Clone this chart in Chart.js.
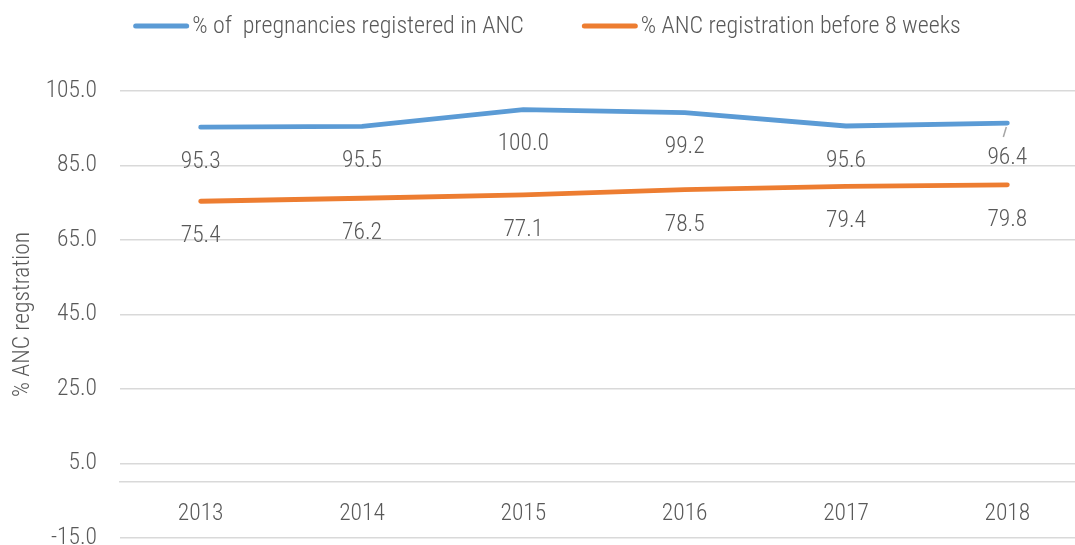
<!DOCTYPE html>
<html>
<head>
<meta charset="utf-8">
<script src="https://cdn.jsdelivr.net/npm/chart.js@4"></script>
<style>
  html, body { margin: 0; padding: 0; background: #fff; overflow: hidden; }
  #wrap { width: 1090px; height: 575px; position: relative; }
</style>
</head>
<body>
<div id="wrap"><canvas id="ancChart"></canvas></div>
<script>
// データ
const years = ['2013', '2014', '2015', '2016', '2017', '2018'];
const registeredInANC = [95.3, 95.5, 100.0, 99.2, 95.6, 96.4];
const before8Weeks = [75.4, 76.2, 77.1, 78.5, 79.4, 79.8];
const seriesNames = ['% of  pregnancies registered in ANC', '% ANC registration before 8 weeks'];

const FONT = "'Roboto Condensed', 'Liberation Sans Narrow', 'DejaVu Sans Condensed', Roboto, sans-serif";
const FSIZE = 23.5;
const TEXT = '#595959';
const GRID = '#d9d9d9';

// 凡例（上部中央）
const topLegend = {
  id: 'topLegend',
  afterDraw(chart) {
    const ctx = chart.ctx;
    ctx.save();
    ctx.font = '300 24px ' + FONT;
    ctx.textBaseline = 'middle';
    const lineW = 56, gapText = 3, gapItem = 58;
    const items = chart.data.datasets.map(ds => ({ ds, w: ctx.measureText(ds.label).width }));
    let total = items.reduce((s, it) => s + lineW + gapText + it.w, 0) + gapItem * (items.length - 1);
    let x = 547 - total / 2;
    const y = 26;
    items.forEach(it => {
      ctx.strokeStyle = it.ds.borderColor;
      ctx.lineWidth = 5;
      ctx.lineCap = 'round';
      ctx.beginPath();
      ctx.moveTo(x + 2.5, y);
      ctx.lineTo(x + lineW - 2.5, y);
      ctx.stroke();
      ctx.fillStyle = TEXT;
      ctx.fillText(it.ds.label, x + lineW + gapText, y + 1);
      x += lineW + gapText + it.w + gapItem;
    });
    ctx.restore();
  }
};

// データラベル（点の下）
const valueLabels = {
  id: 'valueLabels',
  afterDatasetsDraw(chart) {
    const ctx = chart.ctx;
    ctx.save();
    ctx.font = '300 ' + FSIZE + 'px ' + FONT;
    ctx.fillStyle = TEXT;
    ctx.textAlign = 'center';
    ctx.textBaseline = 'middle';
    chart.data.datasets.forEach((ds, i) => {
      const pts = chart.getDatasetMeta(i).data;
      pts.forEach((pt, j) => {
        ctx.fillText(ds.data[j].toFixed(1), pt.x, pt.y + 35);
      });
    });
    // 最後の青ラベルの引き出し線
    const last = chart.getDatasetMeta(0).data[years.length - 1];
    ctx.strokeStyle = '#a6a6a6';
    ctx.lineWidth = 1.5;
    ctx.beginPath();
    ctx.moveTo(last.x - 1, last.y + 4);
    ctx.lineTo(last.x - 4, last.y + 14);
    ctx.stroke();
    ctx.restore();
  }
};

new Chart(document.getElementById('ancChart'), {
  type: 'line',
  data: {
    labels: years,
    datasets: [
      { label: seriesNames[0], data: registeredInANC, borderColor: '#5b9bd5', backgroundColor: '#5b9bd5' },
      { label: seriesNames[1], data: before8Weeks, borderColor: '#ed7d31', backgroundColor: '#ed7d31' }
    ]
  },
  options: {
    responsive: true,
    maintainAspectRatio: false,
    animation: false,
    layout: { padding: { top: 91, right: 2, bottom: 0, left: 7 } },
    elements: {
      line: { borderWidth: 4.8, tension: 0, borderCapStyle: 'round', borderJoinStyle: 'round' },
      point: { radius: 0, hoverRadius: 0 }
    },
    plugins: { legend: { display: false }, tooltip: { enabled: false } },
    scales: {
      x: {
        position: { y: 0 },
        offset: true,
        grid: { display: false, drawTicks: false },
        border: { display: true, color: GRID, width: 1.5 },
        ticks: { color: TEXT, font: { family: FONT, size: FSIZE, weight: '300' }, padding: 18, maxRotation: 0 }
      },
      y: {
        min: -15,
        max: 105,
        afterFit: scale => { scale.width = 113; },
        ticks: {
          stepSize: 20,
          color: TEXT,
          font: { family: FONT, size: FSIZE, weight: '300' },
          padding: 23,
          callback: v => v.toFixed(1)
        },
        grid: { color: GRID, lineWidth: 1.5, drawTicks: false },
        border: { display: false },
        title: {
          display: true,
          text: '% ANC regstration',
          color: TEXT,
          font: { family: FONT, size: FSIZE, weight: '300' },
          padding: { top: 2, bottom: 7 }
        }
      }
    }
  },
  plugins: [topLegend, valueLabels]
});
</script>
</body>
</html>
